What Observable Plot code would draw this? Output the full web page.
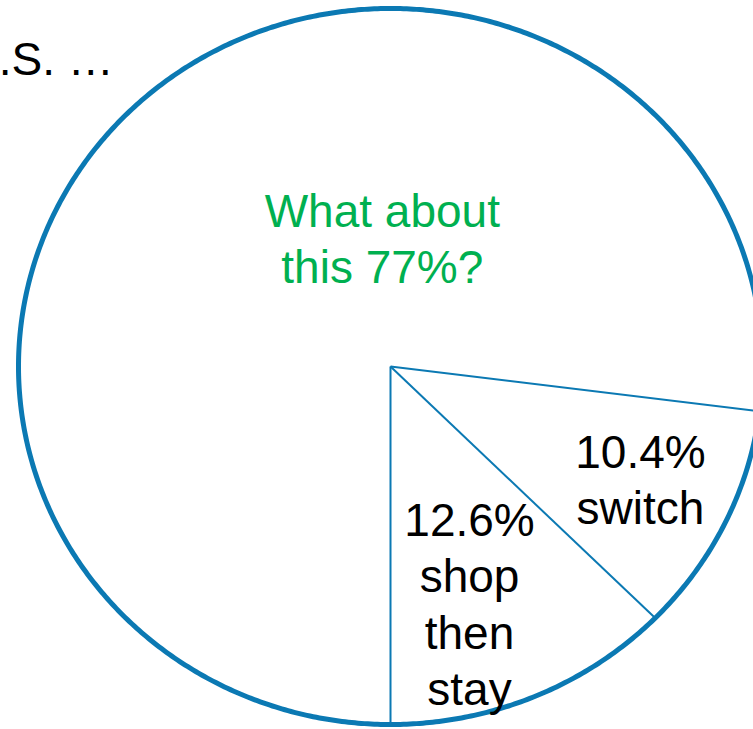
<!DOCTYPE html>
<html>
<head>
<meta charset="utf-8">
<script src="https://cdn.jsdelivr.net/npm/d3@7"></script>
<script src="https://cdn.jsdelivr.net/npm/@observablehq/plot@0.6"></script>
<style>
  html, body { margin: 0; padding: 0; background: #ffffff; }
  #chart svg { display: block; }
</style>
</head>
<body>
<div id="chart"></div>
<script>
// ---- data ----
const categories = ["other", "switch", "shop then stay"];
const shares = [77, 10.4, 12.6];
const sliceLabels = ["What about\nthis 77%?", "10.4%\nswitch", "12.6%\nshop\nthen\nstay"];
const titleText = ["U.S. \u2026"];

// ---- layout (not data) ----
const blue = "#0b79b3";
const green = "#00b050";
const font = "Arial, 'Liberation Sans', Helvetica, sans-serif";
const labelPos = [
  {x: -0.022, y: -0.5, color: green},
  {x: 0.672, y: 0.171, color: "#000000"},
  {x: 0.2124, y: 0.363, color: "#000000"}
];

const arcs = d3.pie().sort(null).startAngle(Math.PI).endAngle(3 * Math.PI)(shares);
const px = a => Math.sin(a);
const py = a => -Math.cos(a);

// radial boundaries from the centre
const radials = arcs.map(d => ({x1: 0, y1: 0, x2: px(d.startAngle), y2: py(d.startAngle)}));

// outer ring (geometry sampling of the full circle)
const ring = d3.range(0, 721).map(i => {
  const a = (i / 720) * 2 * Math.PI;
  return {x: px(a), y: py(a)};
});

const labelData = sliceLabels.map((t, i) => ({text: t, ...labelPos[i], cat: categories[i]}));

const chart = Plot.plot({
  width: 753,
  height: 729,
  margin: 0,
  x: {domain: [-1, 1], range: [18, 762]},
  y: {domain: [-1, 1], range: [8, 724]},
  axis: null,
  style: {background: "#ffffff", fontFamily: font, overflow: "hidden"},
  marks: [
    Plot.link(radials, {x1: "x1", y1: "y1", x2: "x2", y2: "y2", stroke: blue, strokeWidth: 2}),
    Plot.line(ring, {x: "x", y: "y", stroke: blue, strokeWidth: 5}),
    Plot.text(labelData, {
      x: "x", y: "y", text: "text", fill: d => d.color,
      fontSize: 46, fontFamily: font, lineAnchor: "top", lineHeight: 1.22, textAnchor: "middle"
    }),
    Plot.text(titleText, {
      x: () => -1.1425, y: () => -0.905, text: d => d,
      fill: "#000000", fontSize: 46, fontFamily: font, lineAnchor: "top", textAnchor: "start"
    })
  ]
});
document.getElementById("chart").appendChild(chart);
</script>
</body>
</html>
